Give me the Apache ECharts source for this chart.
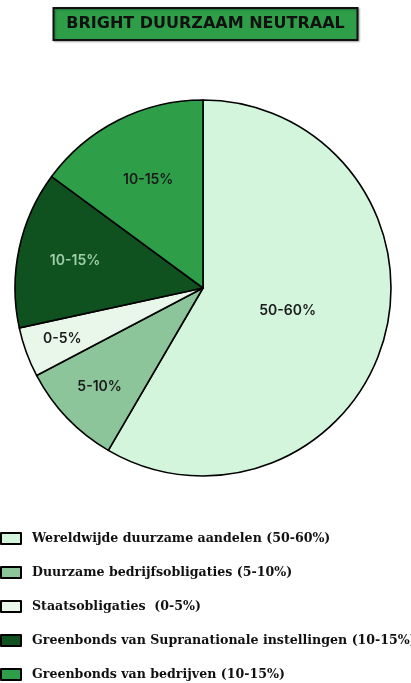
<!DOCTYPE html>
<html><head><meta charset="utf-8">
<style>html,body{margin:0;padding:0;background:#fff;}#c{width:411px;height:683px;}</style>
<script src="https://cdn.jsdelivr.net/npm/echarts@6/dist/echarts.min.js"></script>
</head><body><div id="c"></div>
<script>
var titleText = 'BRIGHT DUURZAAM NEUTRAAL';
var categories = [
  'Wereldwijde duurzame aandelen (50-60%)',
  'Duurzame bedrijfsobligaties (5-10%)',
  'Staatsobligaties  (0-5%)',
  'Greenbonds van Supranationale instellingen (10-15%)',
  'Greenbonds van bedrijven (10-15%)'
];
var sliceLabels = ['50-60%', '5-10%', '0-5%', '10-15%', '10-15%'];
var values = [58.4, 8.9, 4.3, 13.5, 14.9];

// styles
var colors = ['#d3f5dc', '#8cc59a', '#e8f7ea', '#10521f', '#2e9f48'];
var labelColors = ['#1a1a1a', '#1a1a1a', '#1a1a1a', '#9fcea8', '#1a1a1a'];
var labelRadiusFactor = [0.45, 0.745, 0.78, 0.68, 0.63];
var R = 188;

var total = values.reduce(function(a,b){return a+b;},0);
var cum = 0;
var data = values.map(function(v, i){
  var mid = (cum + v/2) / total * Math.PI * 2;
  cum += v;
  var d = (labelRadiusFactor[i] - 0.5) * R;
  return {
    name: categories[i],
    value: v,
    itemStyle: {color: colors[i]},
    label: {
      color: labelColors[i],
      offset: [d * Math.sin(mid), -d * Math.cos(mid)]
    }
  };
});

var chart = echarts.init(document.getElementById('c'), null, {renderer: 'canvas'});
chart.setOption({
  animation: false,
  title: {
    text: titleText,
    left: 'center',
    top: 8,
    padding: [6, 13, 7, 13],
    backgroundColor: '#2e9f48',
    borderColor: '#111',
    borderWidth: 2,
    shadowColor: 'rgba(0,0,0,0.3)',
    shadowBlur: 2,
    shadowOffsetX: 1,
    shadowOffsetY: 1,
    textStyle: {
      fontFamily: '"DejaVu Sans"',
      fontWeight: 'bold',
      fontSize: 16,
      lineHeight: 19,
      color: '#111'
    }
  },
  legend: {
    orient: 'vertical',
    left: 0,
    top: 532,
    height: 200,
    padding: 0,
    itemWidth: 20,
    itemHeight: 11,
    itemGap: 21,
    icon: 'rect',
    data: categories,
    textStyle: {
      fontFamily: '"DejaVu Serif", serif',
      fontWeight: 'bold',
      fontSize: 12.6,
      lineHeight: 13,
      color: '#111',
      padding: [0, 0, 0, 6]
    }
  },
  series: [{
    type: 'pie',
    center: [203, 288],
    radius: [0, R],
    startAngle: 90,
    clockwise: true,
    avoidLabelOverlap: false,
    itemStyle: {borderColor: '#000', borderWidth: 1.6},
    label: {
      show: true,
      position: 'inside',
      fontFamily: 'Inter',
      fontWeight: 600,
      fontSize: 14,
      formatter: function(p){ return sliceLabels[p.dataIndex]; }
    },
    labelLine: {show: false},
    emphasis: {disabled: true},
    data: data
  }]
});
</script></body></html>
